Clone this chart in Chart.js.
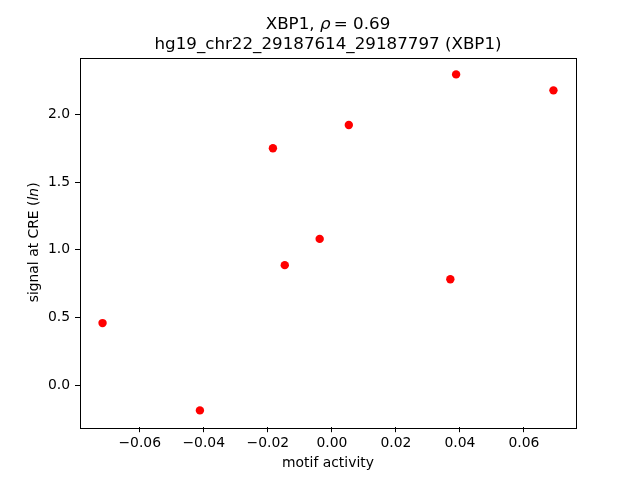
<!DOCTYPE html>
<html>
<head>
<meta charset="utf-8">
<script src="https://cdn.jsdelivr.net/npm/chart.js@4/dist/chart.umd.min.js"></script>
<style>
  html, body { margin: 0; padding: 0; background: #ffffff; }
  #wrap { width: 640px; height: 480px; }
</style>
</head>
<body>
<div id="wrap"><canvas id="c" width="640" height="480"></canvas></div>
<script>
// ---- data ----
const motifActivity = [-0.0716, -0.0412, -0.0184, -0.0147, -0.0038, 0.0053, 0.0370, 0.0388, 0.0692];
const signalAtCRE   = [0.458, -0.187, 1.749, 0.886, 1.080, 1.921, 0.782, 2.295, 2.177];
const xTickValues = [-0.06, -0.04, -0.02, 0.00, 0.02, 0.04, 0.06];
const yTickValues = [0.0, 0.5, 1.0, 1.5, 2.0];
const titleGene = "XBP1";
const titleRho = "0.69";
const titleLine2 = "hg19_chr22_29187614_29187797 (XBP1)";
const xLabel = "motif activity";

// matplotlib-style 5% margins
function padRange(arr) {
  const mn = Math.min(...arr), mx = Math.max(...arr), r = mx - mn;
  return [mn - 0.05 * r, mx + 0.05 * r];
}
const [xMin, xMax] = padRange(motifActivity);
const [yMin, yMax] = padRange(signalAtCRE);

const FONT = "'DejaVu Sans', sans-serif";
function fmt(v, d) {
  const s = Math.abs(v).toFixed(d);
  return (v < -1e-12 ? "\u2212" : "") + s;
}

const points = motifActivity.map((x, i) => ({ x: x, y: signalAtCRE[i] }));

const decorPlugin = {
  id: 'decor',
  afterDraw(chart) {
    const ctx = chart.ctx;
    const a = chart.chartArea;
    ctx.save();
    // frame (all four spines)
    ctx.strokeStyle = '#000';
    ctx.lineWidth = 1;
    ctx.strokeRect(Math.round(a.left) + 0.5, Math.round(a.top) + 0.5,
                   Math.round(a.right - a.left) - 0, Math.round(a.bottom - a.top) - 0);
    const cx = (a.left + a.right) / 2;
    ctx.fillStyle = '#000';
    ctx.textBaseline = 'alphabetic';
    // title line 1 with italic rho
    const f = "16.7px " + FONT;
    const fi = "italic 16.7px " + FONT;
    const p1 = titleGene + ", ", p2 = "\u03c1", p3 = "\u2009= " + titleRho;
    ctx.font = f; const w1 = ctx.measureText(p1).width, w3 = ctx.measureText(p3).width;
    ctx.font = fi; const w2 = ctx.measureText(p2).width;
    let x0 = cx - (w1 + w2 + w3) / 2;
    const yl1 = 29;
    ctx.textAlign = 'left';
    ctx.font = f; ctx.fillText(p1, x0, yl1);
    ctx.font = fi; ctx.fillText(p2, x0 + w1, yl1);
    ctx.font = f; ctx.fillText(p3, x0 + w1 + w2, yl1);
    // title line 2
    ctx.textAlign = 'center';
    ctx.fillText(titleLine2, cx, 49);
    // x label
    ctx.font = "13.9px " + FONT;
    ctx.fillText(xLabel, cx, 467);
    // y label rotated with italic ln
    ctx.translate(38, (a.top + a.bottom) / 2);
    ctx.rotate(-Math.PI / 2);
    const q1 = "signal at CRE (", q2 = "ln", q3 = ")";
    ctx.font = "13.9px " + FONT; const v1 = ctx.measureText(q1).width, v3 = ctx.measureText(q3).width;
    ctx.font = "italic 13.9px " + FONT; const v2 = ctx.measureText(q2).width;
    let s0 = -(v1 + v2 + v3) / 2;
    ctx.textAlign = 'left';
    ctx.font = "13.9px " + FONT; ctx.fillText(q1, s0, 0);
    ctx.font = "italic 13.9px " + FONT; ctx.fillText(q2, s0 + v1, 0);
    ctx.font = "13.9px " + FONT; ctx.fillText(q3, s0 + v1 + v2, 0);
    ctx.restore();
  }
};

new Chart(document.getElementById('c'), {
  type: 'scatter',
  data: {
    datasets: [{
      data: points,
      backgroundColor: '#ff0000',
      borderColor: '#ff0000',
      borderWidth: 0,
      pointRadius: 4.2,
      pointHoverRadius: 4.2
    }]
  },
  options: {
    responsive: false,
    animation: false,
    devicePixelRatio: 1,
    layout: { padding: { left: 0, right: 64, top: 57.6, bottom: 0 } },
    plugins: { legend: { display: false }, tooltip: { enabled: false }, title: { display: false } },
    scales: {
      x: {
        type: 'linear',
        min: xMin, max: xMax,
        afterBuildTicks(scale) { scale.ticks = xTickValues.map(v => ({ value: v })); },
        afterFit(scale) { scale.height = 52.8; },
        grid: { display: true, drawOnChartArea: false, drawTicks: true, tickLength: 5, color: '#000', tickColor: '#000', tickWidth: 1 },
        border: { display: false },
        ticks: {
          color: '#000', padding: 3,
          font: { family: FONT, size: 13.9 },
          maxRotation: 0, autoSkip: false,
          callback: (v) => fmt(v, 2)
        }
      },
      y: {
        type: 'linear',
        min: yMin, max: yMax,
        afterBuildTicks(scale) { scale.ticks = yTickValues.map(v => ({ value: v })); },
        afterFit(scale) { scale.width = 80; },
        grid: { display: true, drawOnChartArea: false, drawTicks: true, tickLength: 5, color: '#000', tickColor: '#000', tickWidth: 1 },
        border: { display: false },
        ticks: {
          color: '#000', padding: 5,
          font: { family: FONT, size: 13.9 },
          autoSkip: false,
          callback: (v) => fmt(v, 1)
        }
      }
    }
  },
  plugins: [decorPlugin]
});
</script>
</body>
</html>
